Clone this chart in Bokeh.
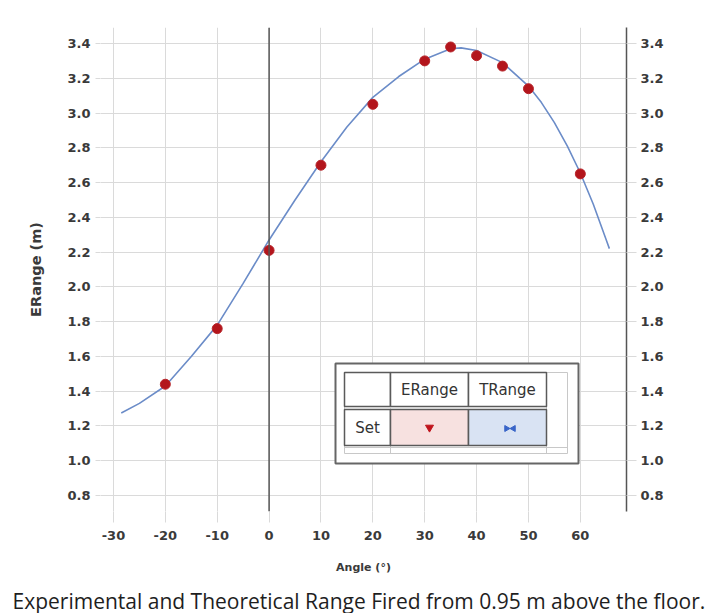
import math
from bokeh.plotting import figure
from bokeh.layouts import column
from bokeh.models import Range1d, LinearAxis, Span, Label, FixedTicker
from bokeh.embed import file_html
from bokeh.resources import INLINE
from bokeh.core.properties import value

# ---- data ----
angle_pts = [-20, -10, 0, 10, 20, 30, 35, 40, 45, 50, 60]
erange = [1.44, 1.76, 2.21, 2.70, 3.05, 3.30, 3.38, 3.33, 3.27, 3.14, 2.65]

angle_curve = [-28.5, -25, -20, -15, -10, -5, 0, 5, 10, 15, 20, 25, 30, 35, 37,
               40, 45, 50, 52.5, 55, 57.5, 60, 62.5, 65, 65.6]
trange = [1.275, 1.33, 1.43, 1.60, 1.78, 2.02, 2.27, 2.50, 2.72, 2.92, 3.09, 3.21,
          3.31, 3.37, 3.375, 3.36, 3.29, 3.155, 3.06, 2.945, 2.81, 2.655, 2.475, 2.27, 2.22]

x_ticks = [-30, -20, -10, 0, 10, 20, 30, 40, 50, 60]
x_labels = {t: str(t) for t in x_ticks}
y_ticks = [0.8, 1.0, 1.2, 1.4, 1.6, 1.8, 2.0, 2.2, 2.4, 2.6, 2.8, 3.0, 3.2, 3.4]
y_labels = {t: f"{t:.1f}" for t in y_ticks}

caption = "Experimental and Theoretical Range Fired from 0.95 m above the floor."
legend_cols = ["ERange", "TRange"]
legend_row = "Set"

# ---- layout (page pixels) ----
W, H = 711, 585
CAP_H = 28
FL, FR, FT, FB = 100, 626, 27, 511
X0, X1 = -32.5, 68.9
Y0, Y1 = 0.708, 3.492


def dx(px):
    return X0 + (px - FL) / (FR - FL) * (X1 - X0)


def dy(py):
    return Y1 - (py - FT) / (FB - FT) * (Y1 - Y0)


TICK_FONT = "DejaVu Sans"
TXT = "#3a3a3a"
GRID = "#dadada"

p = figure(width=W, height=H, x_range=Range1d(X0, X1), y_range=Range1d(Y0, Y1),
           output_backend="svg", toolbar_location=None,
           min_border_left=FL, min_border_right=W - FR,
           min_border_top=FT, min_border_bottom=H - FB)
p.outline_line_color = None
p.background_fill_color = "white"
p.border_fill_color = "white"
p.frame_align = False

# grids
p.xgrid.ticker = FixedTicker(ticks=x_ticks)
p.ygrid.ticker = FixedTicker(ticks=y_ticks)
for g in (p.xgrid, p.ygrid):
    g.grid_line_color = GRID
    g.grid_line_width = 1

# bottom axis
xa = p.xaxis[0]
xa.ticker = FixedTicker(ticks=x_ticks)
xa.major_label_overrides = x_labels
xa.axis_line_color = None
xa.major_tick_in = 0
xa.major_tick_out = 11
xa.major_tick_line_color = GRID
xa.minor_tick_line_color = None
xa.major_label_standoff = 8
xa.axis_label = "Angle (°)"
xa.axis_label_standoff = 18

# left axis
ya = p.yaxis[0]
ya.ticker = FixedTicker(ticks=y_ticks)
ya.major_label_overrides = y_labels
ya.axis_line_color = None
ya.major_tick_in = 0
ya.major_tick_out = 5
ya.major_tick_line_color = GRID
ya.minor_tick_line_color = None
ya.major_label_standoff = 5
ya.axis_label = "ERange (m)"
ya.axis_label_standoff = 20

# right axis
ra = LinearAxis(ticker=FixedTicker(ticks=y_ticks), major_label_overrides=y_labels)
ra.axis_line_color = "#555555"
ra.axis_line_width = 1.5
ra.major_tick_in = 0
ra.major_tick_out = 10
ra.major_tick_line_color = GRID
ra.minor_tick_line_color = None
ra.major_label_standoff = 4
p.add_layout(ra, "right")

for ax in (xa, ya, ra):
    ax.major_label_text_font = TICK_FONT
    ax.major_label_text_font_size = "13px"
    ax.major_label_text_font_style = "bold"
    ax.major_label_text_color = TXT
    ax.axis_label_text_font = TICK_FONT
    ax.axis_label_text_font_style = "bold"
    ax.axis_label_text_color = TXT
xa.axis_label_text_font_size = "11px"
ya.axis_label_text_font_size = "14.5px"

# vertical line at angle 0
p.add_layout(Span(location=0, dimension="height", line_color="#555555", line_width=1.5))

# right axis label (reads bottom to top)
p.add_layout(Label(x=dx(697), y=dy(268), text="TRange (m)", angle=math.pi / 2,
                   text_align="center", text_baseline="middle",
                   text_font=TICK_FONT, text_font_size="14.5px",
                   text_font_style="bold", text_color=TXT))

# series
p.line(angle_curve, trange, line_color="#6b8cc8", line_width=1.6)
p.scatter(angle_pts, erange, marker="circle", size=10, fill_color="#b3151c",
          line_color="#b8262b", line_width=1)

# ---- legend table ----
p.quad(left=[dx(335)], right=[dx(578)], top=[dy(363)], bottom=[dy(463)],
       fill_color="white", line_color="#666666", line_width=2)
p.quad(left=[dx(344)], right=[dx(567)], top=[dy(372)], bottom=[dy(453)],
       fill_color=None, line_color="#c8c8c8", line_width=1)
p.segment(x0=[dx(344), dx(546)], y0=[dy(447), dy(372)], x1=[dx(567), dx(546)], y1=[dy(447), dy(453)],
          line_color="#c8c8c8", line_width=1)
p.segment(x0=[dx(390)], y0=[dy(408)], x1=[dx(390)], y1=[dy(453)], line_color="#c8c8c8", line_width=1)

cell_l = [dx(344), dx(390), dx(468), dx(344), dx(390), dx(468)]
cell_r = [dx(390), dx(468), dx(546), dx(390), dx(468), dx(546)]
cell_t = [dy(372)] * 3 + [dy(409)] * 3
cell_b = [dy(406)] * 3 + [dy(445)] * 3
cell_f = ["white", "white", "white", "white", "#f7e1e0", "#d9e3f3"]
p.quad(left=cell_l, right=cell_r, top=cell_t, bottom=cell_b, fill_color=cell_f,
       line_color="#5a5a5a", line_width=1.5)

p.text(x=[dx(429), dx(507), dx(367)], y=[dy(389), dy(389), dy(427)],
       text=legend_cols + [legend_row], text_align="center", text_baseline="middle",
       text_font=value(TICK_FONT), text_font_size="15px", text_color="#333333")

p.scatter([dx(429)], [dy(427)], marker="inverted_triangle", size=8,
          fill_color="#c0141c", line_color="#c0141c")
p.scatter([dx(506), dx(513)], [dy(428), dy(428)], marker="triangle", size=6,
          angle=[-math.pi / 2, math.pi / 2], fill_color="#3a66c8", line_color="#3a66c8")

# ---- caption strip ----
c = figure(width=W, height=CAP_H, x_range=Range1d(0, W), y_range=Range1d(0, CAP_H),
           output_backend="svg", toolbar_location=None, min_border=0,
           x_axis_location=None, y_axis_location=None)
c.frame_align = False
c.grid.visible = False
c.outline_line_color = None
c.background_fill_color = "white"
c.border_fill_color = "white"
c.text(x=[12], y=[CAP_H - (600 - H)], text=[caption], text_align="left",
       text_baseline="middle", text_font=value("Open Sans"), text_font_size="21px",
       text_color="#1e1e1e")

layout = column(p, c, spacing=0)
open("out.html", "w").write(file_html(layout, INLINE))
